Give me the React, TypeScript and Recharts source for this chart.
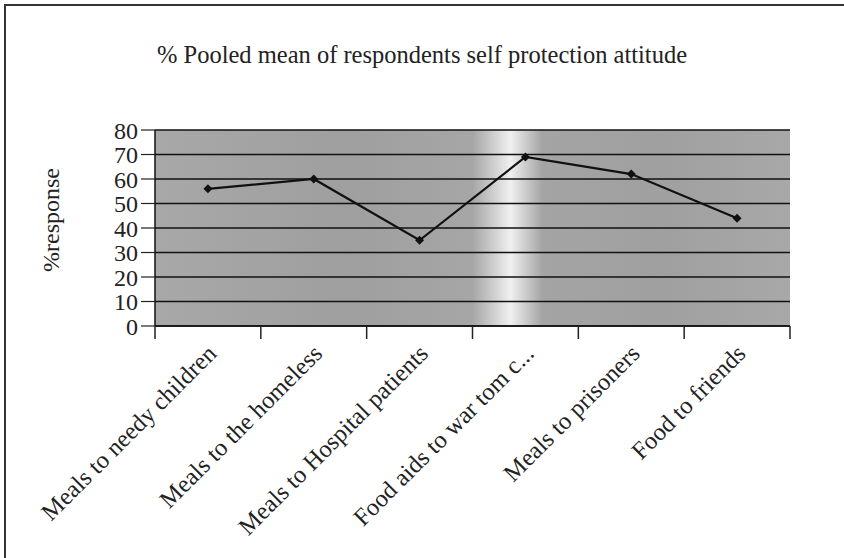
import { LineChart, Line, XAxis, YAxis, CartesianGrid } from "recharts";

// % pooled mean of respondents self protection attitude
const categories = [
  "Meals to needy children",
  "Meals to the homeless",
  "Meals to Hospital patients",
  "Food aids to war tom c...",
  "Meals to prisoners",
  "Food to friends",
];
const responses = [56, 60, 35, 69, 62, 44];
const yTicks = [0, 10, 20, 30, 40, 50, 60, 70, 80];

const data = categories.map((name, i) => ({ name, value: responses[i] }));

const W = 844;
const H = 558;
const margin = { top: 130, right: 54, bottom: 202, left: 95 };
const yAxisWidth = 60;
const plotWidth = W - margin.left - margin.right - yAxisWidth;
const bandWidth = plotWidth / categories.length;
const FONT = '"Liberation Serif", "Times New Roman", serif';

const CategoryTick = (props: any) => {
  const { x, y, payload, index } = props;
  const left = x - bandWidth / 2;
  return (
    <g>
      <line x1={left} y1={y} x2={left} y2={y + 13} stroke="#222" strokeWidth={1.5} />
      {index === categories.length - 1 && (
        <line x1={x + bandWidth / 2} y1={y} x2={x + bandWidth / 2} y2={y + 13} stroke="#222" strokeWidth={1.5} />
      )}
      <text
        x={x + 10}
        y={y + 29}
        transform={`rotate(-45, ${x + 10}, ${y + 29})`}
        textAnchor="end"
        fontFamily={FONT}
        fontSize={24.5}
        fill="#222"
      >
        {payload.value}
      </text>
    </g>
  );
};

const Diamond = (props: any) => {
  const { cx, cy, index } = props;
  const r = 4.5;
  return (
    <path
      key={index}
      d={`M${cx},${cy - r} L${cx + r},${cy} L${cx},${cy + r} L${cx - r},${cy} Z`}
      fill="#111"
    />
  );
};

export default function App() {
  return (
    <div style={{ position: "absolute", left: 0, top: 0, width: W, height: H, background: "#fff", overflow: "hidden" }}>
      <svg width={0} height={0} style={{ position: "absolute" }}>
        <defs>
          <linearGradient id="scanBg" x1="0" y1="0" x2="1" y2="0">
            <stop offset="0" stopColor="#a8a8a8" />
            <stop offset="0.3" stopColor="#9f9f9f" />
            <stop offset="0.5" stopColor="#a6a6a6" />
            <stop offset="0.56" stopColor="#f0f0f0" />
            <stop offset="0.61" stopColor="#a4a4a4" />
            <stop offset="0.8" stopColor="#a0a0a0" />
            <stop offset="1" stopColor="#a8a8a8" />
          </linearGradient>
        </defs>
      </svg>
      {/* scan frame */}
      <div style={{ position: "absolute", left: 4, top: 4, width: W, height: H, borderTop: "2px solid #333", borderLeft: "2px solid #333" }} />
      <div
        style={{
          position: "absolute",
          left: 0,
          width: W,
          top: 41,
          textAlign: "center",
          fontFamily: FONT,
          fontSize: 24.5,
          color: "#222",
        }}
      >
        % Pooled mean of respondents self protection attitude
      </div>
      <div
        style={{
          position: "absolute",
          left: 51,
          top: 220,
          transform: "translate(-50%, -50%) rotate(-90deg)",
          fontFamily: FONT,
          fontSize: 24,
          color: "#222",
          whiteSpace: "nowrap",
        }}
      >
        %response
      </div>
      <LineChart width={W} height={H} data={data} margin={margin} style={{ position: "absolute", left: 0, top: 0 }}>
        <CartesianGrid vertical={false} stroke="#111" strokeWidth={1.5} fill="url(#scanBg)" fillOpacity={1} />
        <XAxis
          dataKey="name"
          scale="band"
          interval={0}
          height={30}
          tickSize={0}
          tickMargin={0}
          tickLine={false}
          axisLine={{ stroke: "#111", strokeWidth: 1.5 }}
          tick={<CategoryTick />}
        />
        <YAxis
          domain={[0, 80]}
          ticks={yTicks}
          interval={0}
          width={yAxisWidth}
          tickSize={14}
          tickMargin={3}
          tickLine={{ stroke: "#222", strokeWidth: 1.2 }}
          axisLine={{ stroke: "#111", strokeWidth: 1.5 }}
          tick={{ fontFamily: FONT, fontSize: 24, fill: "#222" }}
        />
        <YAxis
          yAxisId="right"
          orientation="right"
          domain={[0, 80]}
          width={0}
          tick={false}
          tickLine={false}
          axisLine={{ stroke: "#111", strokeWidth: 1.5 }}
        />
        <Line
          type="linear"
          dataKey="value"
          stroke="#111"
          strokeWidth={2.2}
          dot={<Diamond />}
          activeDot={false}
          isAnimationActive={false}
        />
      </LineChart>
    </div>
  );
}
